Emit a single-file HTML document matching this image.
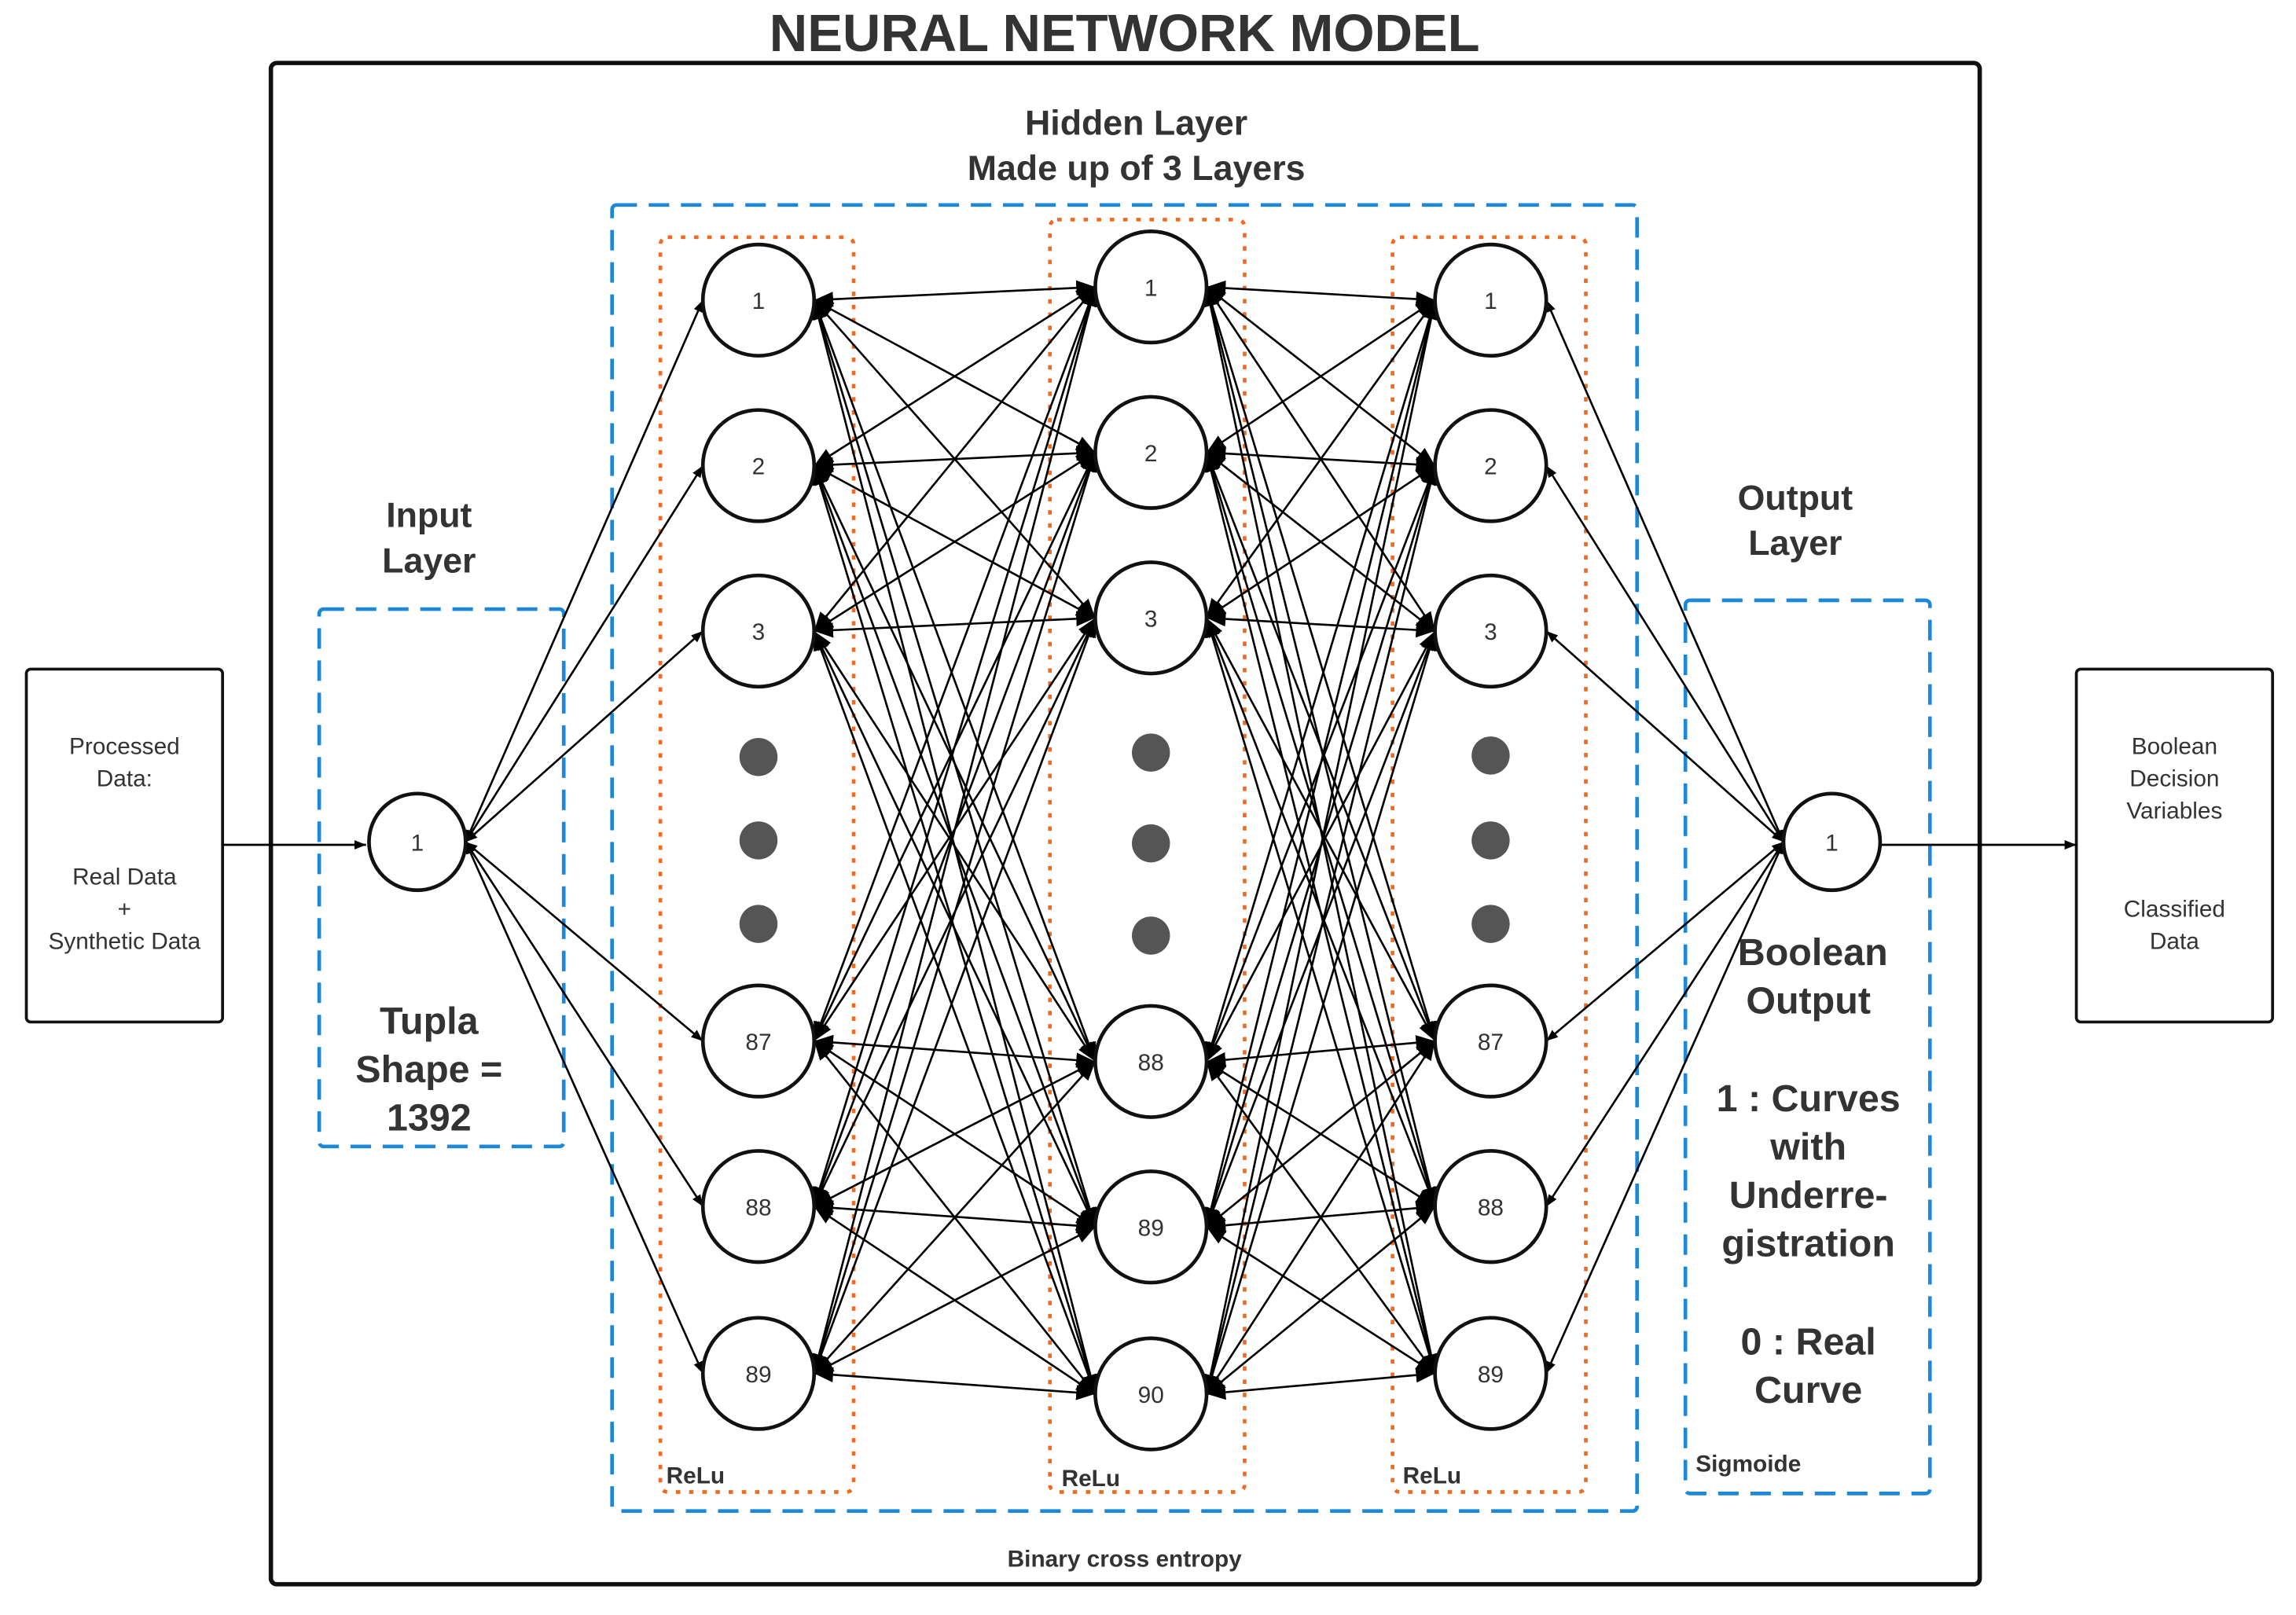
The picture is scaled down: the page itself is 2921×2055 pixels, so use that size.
<!DOCTYPE html>
<html><head><meta charset="utf-8"><style>
html,body{margin:0;padding:0;background:#fff}
svg{display:block}
text{font-family:"Liberation Sans",Arial,sans-serif;fill:#333}
</style></head><body>
<svg id="s" width="2921" height="2055" viewBox="0 0 1568 1103" preserveAspectRatio="none" xmlns="http://www.w3.org/2000/svg">
<defs>
<marker id="a" viewBox="0 0 10 10" refX="10" refY="5" markerWidth="8" markerHeight="8" orient="auto-start-reverse" markerUnits="userSpaceOnUse"><path d="M0,1 L10,5 L0,9z" fill="#000"/></marker>
<marker id="b" viewBox="0 0 10 10" refX="10" refY="5" markerWidth="13" markerHeight="13" orient="auto-start-reverse" markerUnits="userSpaceOnUse"><path d="M0,1 L10,5 L0,9z" fill="#000"/></marker>
</defs>
<text x="768" y="35" text-anchor="middle" font-size="36" font-weight="bold">NEURAL NETWORK MODEL</text>
<rect x="185" y="43" width="1167" height="1039" rx="4" fill="none" stroke="#111" stroke-width="3"/>
<rect x="18" y="457" width="134" height="241" rx="3" fill="none" stroke="#111" stroke-width="2"/>
<rect x="1418" y="457" width="134" height="241" rx="3" fill="none" stroke="#111" stroke-width="2"/>
<g fill="none" stroke="#1e88d8" stroke-width="2.5" stroke-dasharray="14,8">
<rect x="218" y="416" width="167" height="367" rx="3"/>
<rect x="418" y="140" width="700" height="892" rx="3"/>
<rect x="1151" y="410" width="167" height="610" rx="3"/>
</g>
<g fill="none" stroke="#f06a20" stroke-width="2.5" stroke-dasharray="3,6">
<rect x="451" y="162" width="132" height="857" rx="5"/>
<rect x="717" y="150" width="133" height="869" rx="5"/>
<rect x="951" y="162" width="132" height="857" rx="5"/>
</g>
<g id="lines" stroke="#000" stroke-width="1.4"></g>
<line x1="152" y1="577" x2="250" y2="577" stroke="#000" stroke-width="1.5" marker-end="url(#a)"/>
<line x1="1285" y1="577" x2="1418" y2="577" stroke="#000" stroke-width="1.5" marker-end="url(#a)"/>
<g id="nodes"></g>
<g fill="#555">
<circle cx="518" cy="517" r="13"/><circle cx="518" cy="574" r="13"/><circle cx="518" cy="631" r="13"/>
<circle cx="786" cy="514" r="13"/><circle cx="786" cy="576" r="13"/><circle cx="786" cy="639" r="13"/>
<circle cx="1018" cy="516" r="13"/><circle cx="1018" cy="574" r="13"/><circle cx="1018" cy="631" r="13"/>
</g>
<g font-size="24" font-weight="bold" text-anchor="middle">
<text x="776" y="92">Hidden Layer</text>
<text x="776" y="123">Made up of  3 Layers</text>
<text x="293" y="360">Input</text><text x="293" y="391">Layer</text>
<text x="1226" y="348">Output</text><text x="1226" y="379">Layer</text>
</g>
<g font-size="26" font-weight="bold" text-anchor="middle">
<text x="293" y="706">Tupla</text><text x="293" y="739">Shape =</text><text x="293" y="772">1392</text>
<text x="1238" y="659">Boolean</text><text x="1235" y="692">Output</text>
<text x="1235" y="759">1 : Curves</text><text x="1235" y="792">with</text><text x="1235" y="825">Underre-</text><text x="1235" y="858">gistration</text>
<text x="1235" y="925">0 : Real</text><text x="1235" y="958">Curve</text>
</g>
<g font-size="16" font-weight="bold">
<text x="455" y="1013">ReLu</text><text x="725" y="1015">ReLu</text><text x="958" y="1013">ReLu</text>
<text x="1158" y="1005">Sigmoide</text>
<text x="768" y="1070" text-anchor="middle">Binary cross entropy</text>
</g>
<g font-size="16" text-anchor="middle">
<text x="85" y="515">Processed</text><text x="85" y="537">Data:</text>
<text x="85" y="604">Real Data</text><text x="85" y="626">+</text><text x="85" y="648">Synthetic Data</text>
<text x="1485" y="515">Boolean</text><text x="1485" y="537">Decision</text><text x="1485" y="559">Variables</text>
<text x="1485" y="626">Classified</text><text x="1485" y="648">Data</text>
</g>
</svg>
<script>
var NS="http://www.w3.org/2000/svg";
var L0=[[285,575,33,"1"]];
function col(x,ys,labs){return ys.map((y,i)=>[x,y,38,labs[i]]);}
var L1=col(518,[205,318,431,711,824,938],["1","2","3","87","88","89"]);
var L2=col(786,[196,309,422,725,838,952],["1","2","3","88","89","90"]);
var L3=col(1018,[205,318,431,711,824,938],["1","2","3","87","88","89"]);
var L4=[[1251,575,33,"1"]];
var g=document.getElementById("lines");
function conn(A,B,m){A.forEach(a=>B.forEach(b=>{
 var l=document.createElementNS(NS,"line");
 l.setAttribute("x1",a[0]+a[2]);l.setAttribute("y1",a[1]);
 l.setAttribute("x2",b[0]-b[2]);l.setAttribute("y2",b[1]);
 l.setAttribute("marker-start","url(#"+m+")");l.setAttribute("marker-end","url(#"+m+")");
 g.appendChild(l);}));}
conn(L0,L1,"a");conn(L1,L2,"b");conn(L2,L3,"b");conn(L3,L4,"a");
var n=document.getElementById("nodes");
[L0,L1,L2,L3,L4].forEach(L=>L.forEach(p=>{
 var c=document.createElementNS(NS,"circle");
 c.setAttribute("cx",p[0]);c.setAttribute("cy",p[1]);c.setAttribute("r",p[2]);
 c.setAttribute("fill","#fff");c.setAttribute("stroke","#111");c.setAttribute("stroke-width","2.5");
 n.appendChild(c);
 var t=document.createElementNS(NS,"text");
 t.setAttribute("x",p[0]);t.setAttribute("y",p[1]+6);t.setAttribute("text-anchor","middle");t.setAttribute("font-size","16");
 t.textContent=p[3];n.appendChild(t);}));
</script>
</body></html>
